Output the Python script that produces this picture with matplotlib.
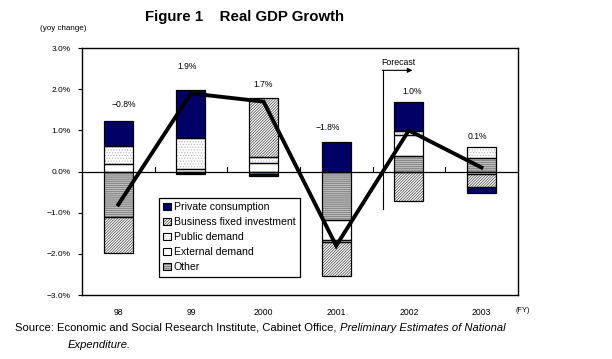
import matplotlib
matplotlib.use("Agg")
import matplotlib.pyplot as plt
from matplotlib.patches import Patch
from matplotlib.legend_handler import HandlerTuple
import numpy as np

plt.rcParams['font.family'] = ['Liberation Sans', 'DejaVu Sans']
plt.rcParams['hatch.linewidth'] = 0.5

categories = ['98', '99', '2000', '2001', '2002', '2003']
private = [0.59, 1.17, -0.04, 0.72, 0.69, -0.15]
business = [-0.87, -0.04, 1.42, -0.83, -0.71, -0.33]
public = [0.44, 0.74, 0.15, -0.05, 0.09, 0.27]
external = [0.19, 0.07, 0.21, -0.48, 0.51, -0.05]
other = [-1.10, -0.03, -0.06, -1.17, 0.39, 0.33]
total = [-0.8, 1.9, 1.7, -1.8, 1.0, 0.1]
total_labels = ['−0.8%', '1.9%', '1.7%', '−1.8%', '1.0%', '0.1%']
yticks = [-3, -2, -1, 0, 1, 2, 3]
ytick_labels = ['−3.0%', '−2.0%', '−1.0%', '0.0%', '1.0%', '2.0%', '3.0%']

# layout for the value labels (y position in data units, x offset)
label_y = [1.62, 2.55, 2.12, 1.08, 1.95, 0.86]
label_dx = [0.08, -0.06, -0.01, -0.11, 0.04, -0.06]

fig = plt.figure(figsize=(6.12, 3.59), dpi=100)
ax = fig.add_axes([0.134, 0.178, 0.712, 0.688])

x = np.arange(len(categories))
w = 0.4

# series drawn in stacking order from zero outward
series = [
    ('Other', other, dict(facecolor='#8a8a8a', hatch='--------', hcolor='#d2d2d2')),
    ('External demand', external, dict(facecolor='white', hatch=None, hcolor='white')),
    ('Public demand', public, dict(facecolor='white', hatch='......', hcolor='#b4b4b4')),
    ('Business fixed investment', business, dict(facecolor='white', hatch='////////////', hcolor='#404040')),
    ('Private consumption', private, dict(facecolor='#000066', hatch=None, hcolor='#000066')),
]

pos_base = np.zeros(len(x))
neg_base = np.zeros(len(x))
handles = {}
for name, vals, st in series:
    vals = np.array(vals)
    bottom = np.where(vals >= 0, pos_base, neg_base)
    ax.bar(x, vals, w, bottom=bottom, facecolor=st['facecolor'], hatch=st['hatch'],
           edgecolor=st['hcolor'], linewidth=0, zorder=2)
    ax.bar(x, vals, w, bottom=bottom, facecolor='none', edgecolor='black',
           linewidth=0.9, zorder=3)
    pos_base = pos_base + np.where(vals >= 0, vals, 0)
    neg_base = neg_base + np.where(vals < 0, vals, 0)
    handles[name] = (Patch(facecolor=st['facecolor'], hatch=st['hatch'], edgecolor=st['hcolor'], linewidth=0),
                     Patch(facecolor='none', edgecolor='black', linewidth=0.8))

ax.plot(x, total, color='black', linewidth=2.8, zorder=5, solid_joinstyle='miter')

for xi, yl, dx, t in zip(x, label_y, label_dx, total_labels):
    ax.text(xi + dx, yl, t, ha='center', va='center', fontsize=6.2)

ax.axhline(0, color='black', linewidth=0.9, zorder=4)
for b in np.arange(0.5, len(x) - 0.5, 1):
    ax.plot([b, b], [0, 0.1], color='black', linewidth=0.8, zorder=4)

ax.set_xlim(-0.5, len(x) - 0.5)
ax.set_ylim(-3, 3)
ax.set_yticks(yticks)
ax.set_yticklabels(ytick_labels, fontsize=6)
ax.set_xticks(x)
ax.set_xticklabels(categories, fontsize=6.2)
ax.tick_params(axis='x', length=0, pad=9)
ax.tick_params(axis='y', length=3, direction='out', pad=5, width=0.8)
for s in ax.spines.values():
    s.set_linewidth(1.0)

# Forecast marker
fx = 3.64
ax.plot([fx, fx], [-0.9, 2.46], color='black', linewidth=0.8, zorder=4)
ax.annotate('', xy=(4.05, 2.46), xytext=(fx - 0.005, 2.46),
            arrowprops=dict(arrowstyle='-|>', color='black', lw=0.8, mutation_scale=7,
                            shrinkA=0, shrinkB=0), zorder=4)
ax.text(3.62, 2.66, 'Forecast', fontsize=6.3, ha='left', va='center')

order = ['Private consumption', 'Business fixed investment', 'Public demand',
         'External demand', 'Other']
leg = ax.legend([handles[n] for n in order], order,
                handler_map={tuple: HandlerTuple(ndivide=1)},
                loc='upper left', bbox_to_anchor=(159 / 612, 1 - 198 / 359),
                bbox_transform=fig.transFigure, fontsize=7.6, frameon=True,
                fancybox=False, edgecolor='black', framealpha=1,
                handlelength=0.7, handleheight=0.7, handletextpad=0.3,
                labelspacing=0.48, borderpad=0.4, borderaxespad=0)
leg.get_frame().set_linewidth(0.9)
leg.set_zorder(6)

fig.text(0.40, 1 - 17 / 359, 'Figure 1    Real GDP Growth', ha='center', va='center',
         fontsize=10.8, fontweight='bold')
fig.text(40 / 612, 1 - 28 / 359, '(yoy change)', ha='left', va='center', fontsize=5.8)
fig.text(515 / 612, 1 - 310 / 359, '(FY)', ha='left', va='center', fontsize=5.3)

src_fs = 8.15
t1 = fig.text(15 / 612, 1 - 331 / 359, 'Source: Economic and Social Research Institute, Cabinet Office, ',
              ha='left', va='baseline', fontsize=src_fs)
fig.canvas.draw()
bb = t1.get_window_extent()
x_end = bb.x1 / fig.bbox.width
fig.text(x_end, 1 - 331 / 359, 'Preliminary Estimates of National', ha='left', va='baseline',
         fontsize=src_fs, style='italic')
fig.text(68 / 612, 1 - 348 / 359, 'Expenditure.', ha='left', va='baseline',
         fontsize=src_fs, style='italic')

fig.savefig('out.png', dpi=100)
